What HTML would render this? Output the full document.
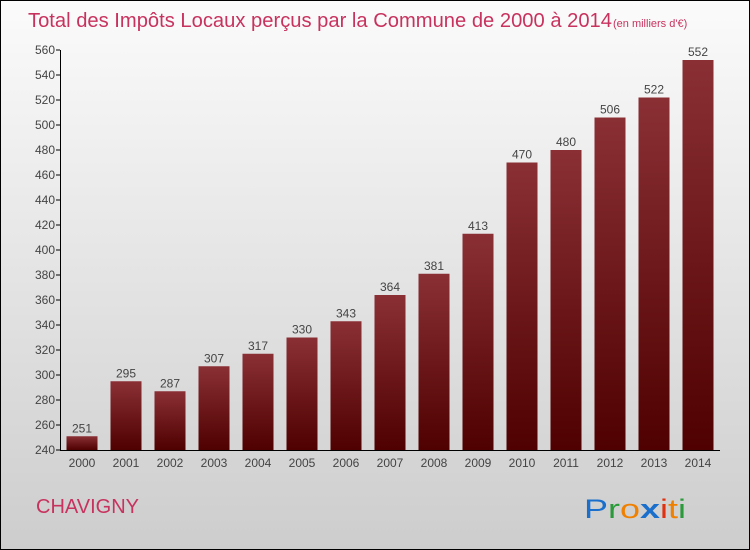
<!DOCTYPE html>
<html><head><meta charset="utf-8"><style>
body{margin:0;}
#c{width:750px;height:550px;position:relative;box-sizing:border-box;border:1px solid #000;background:linear-gradient(#fbfbfb,#cdcdcd);font-family:"Liberation Sans",sans-serif;overflow:hidden}
</style></head><body>
<div id="c">
<svg width="750" height="550" style="position:absolute;left:-1px;top:-1px">
<defs><linearGradient id="bg" x1="0" y1="0" x2="0" y2="1"><stop offset="0" stop-color="#8a3035"/><stop offset="1" stop-color="#4f0000"/></linearGradient></defs>
<text x="28" y="27" font-size="20" fill="#c8325e" textLength="584" lengthAdjust="spacingAndGlyphs">Total des Impôts Locaux perçus par la Commune de 2000 à 2014</text>
<text x="613" y="27" font-size="11" fill="#c8325e">(en milliers d'€)</text>
<g id="plot"></g>
<text x="36" y="513" font-size="20" fill="#c8325e">CHAVIGNY</text>
<g font-size="27" font-family="'Liberation Sans',sans-serif">
<text x="584" y="518" fill="#1a6fcc" textLength="102" lengthAdjust="spacingAndGlyphs">P<tspan fill="#2a9a3a">r</tspan><tspan fill="#f08000">o</tspan><tspan fill="#1a6fcc" font-weight="bold">x</tspan><tspan fill="#e03010">i</tspan><tspan fill="#f08000">t</tspan><tspan fill="#2a9a3a">i</tspan></text>
</g>
</svg>
</div>
<script>
const years=["2000","2001","2002","2003","2004","2005","2006","2007","2008","2009","2010","2011","2012","2013","2014"];
const values=[251,295,287,307,317,330,343,364,381,413,470,480,506,522,552];
const ticks=[240,260,280,300,320,340,360,380,400,420,440,460,480,500,520,540,560];
const NS="http://www.w3.org/2000/svg";
const g=document.getElementById('plot');
const y=v=>450-(v-240)*1.25;
const x=i=>82+i*44;
function mk(t,a){const e=document.createElementNS(NS,t);for(const k in a)e.setAttribute(k,a[k]);g.appendChild(e);return e;}
ticks.forEach(t=>{
 const l=mk('line',{x1:56,x2:60,y1:y(t),y2:y(t),stroke:'#000'});
 
 
 const tx=mk('text',{x:55,y:y(t)+4,'text-anchor':'end','font-size':12,fill:'#444'});
 tx.textContent=t;
 
 
});
const ax=mk('path',{d:'M60.5 50 V450.5 H720',stroke:'#000',fill:'none'});


values.forEach((v,i)=>{
 const r=mk('rect',{x:x(i)-15.5,y:y(v),width:31,height:450-y(v),fill:'url(#bg)'});
 
 
 const t=mk('text',{x:x(i),y:y(v)-4,'text-anchor':'middle','font-size':12,fill:'#444'});
 t.textContent=v;
 
 
 const xl=mk('text',{x:x(i),y:467,'text-anchor':'middle','font-size':12,fill:'#444'});
 xl.textContent=years[i];
 
 
});
</script>
</body></html>
